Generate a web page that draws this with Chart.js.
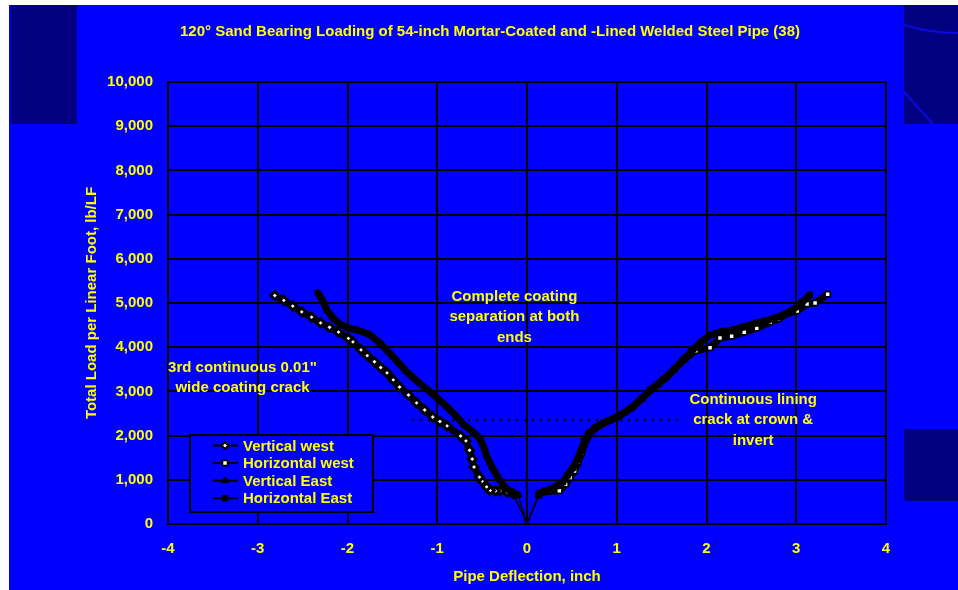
<!DOCTYPE html>
<html>
<head>
<meta charset="utf-8">
<script src="https://cdn.jsdelivr.net/npm/chart.js@4.4.1/dist/chart.umd.min.js"></script>
<style>
  html, body { margin: 0; padding: 0; background: #ffffff; overflow: hidden; }
  canvas { display: block; }
</style>
</head>
<body>
<canvas id="chart" width="958" height="590"></canvas>
<script>
// Axis ticks
const xTicks = [-4, -3, -2, -1, 0, 1, 2, 3, 4];
const yTicks = [0, 1000, 2000, 3000, 4000, 5000, 6000, 7000, 8000, 9000, 10000];

// Series: [pipe deflection (in), total load (lb/LF)]
const seriesNames = ['Vertical west', 'Horizontal west', 'Vertical East', 'Horizontal East'];

const verticalWest = [
  [0, 0], [-0.15, 680], [-0.22, 720], [-0.30, 750], [-0.35, 750], [-0.41, 760],
  [-0.45, 840], [-0.50, 970], [-0.53, 1060], [-0.59, 1290], [-0.61, 1470],
  [-0.64, 1670], [-0.68, 1880], [-0.74, 1990], [-0.89, 2220], [-0.97, 2320],
  [-1.05, 2420], [-1.14, 2580], [-1.23, 2740], [-1.32, 2920], [-1.42, 3100],
  [-1.49, 3260], [-1.56, 3420], [-1.63, 3540], [-1.70, 3670], [-1.78, 3810],
  [-1.85, 3940], [-1.94, 4120], [-1.99, 4200], [-2.10, 4340], [-2.20, 4450],
  [-2.30, 4550], [-2.40, 4680], [-2.51, 4800], [-2.61, 4930], [-2.71, 5060],
  [-2.81, 5170]
];

const horizontalWest = [
  [0, 0], [0.14, 700], [0.25, 740], [0.36, 750], [0.43, 900], [0.48, 1050],
  [0.53, 1200], [0.57, 1400], [0.61, 1600], [0.64, 1800], [0.70, 2050],
  [0.80, 2220], [0.92, 2340], [1.04, 2460], [1.16, 2620], [1.28, 2840],
  [1.40, 3060], [1.52, 3270], [1.64, 3500], [1.76, 3740], [1.88, 3920],
  [2.04, 3990], [2.15, 4210], [2.28, 4250], [2.42, 4340], [2.56, 4430],
  [2.71, 4570], [2.80, 4640], [2.91, 4770], [3.01, 4820], [3.12, 4980],
  [3.21, 5000], [3.35, 5200]
];

const verticalEast = [
  [0, 0], [-0.10, 660], [-0.16, 700], [-0.25, 840], [-0.32, 1040], [-0.39, 1290],
  [-0.45, 1540], [-0.49, 1790], [-0.53, 1950], [-0.60, 2080], [-0.70, 2240],
  [-0.78, 2420], [-0.89, 2650], [-1.05, 2940], [-1.19, 3170], [-1.34, 3440],
  [-1.49, 3780], [-1.64, 4100], [-1.75, 4280], [-1.89, 4390], [-1.99, 4430],
  [-2.08, 4520], [-2.16, 4660], [-2.23, 4840], [-2.28, 5070], [-2.33, 5230]
];

const horizontalEast = [
  [0, 0], [0.13, 650], [0.20, 760], [0.27, 790], [0.33, 860], [0.40, 950],
  [0.45, 1100], [0.51, 1270], [0.56, 1450], [0.60, 1650], [0.64, 1880],
  [0.69, 2060], [0.76, 2180], [0.85, 2290], [1.00, 2420], [1.09, 2530],
  [1.18, 2650], [1.28, 2840], [1.37, 3030], [1.47, 3180], [1.56, 3330],
  [1.65, 3520], [1.74, 3710], [1.83, 3900], [1.93, 4100], [2.04, 4280],
  [2.17, 4350], [2.30, 4390], [2.43, 4470], [2.56, 4550], [2.68, 4610],
  [2.79, 4680], [2.88, 4760], [2.96, 4840], [3.06, 5000], [3.15, 5180]
];

// Dotted reference level (lining crack)
const crackLevel = [[-1.28, 2350], [1.74, 2350]];

// Callout texts, anchored at [deflection, load] of the first line
const callouts = [
  { at: [-0.14, 5140], lines: ['Complete coating', 'separation at both', 'ends'] },
  { at: [-3.17, 3530], lines: ['3rd continuous 0.01"', 'wide coating crack'] },
  { at: [2.52, 2810], lines: ['Continuous lining', 'crack at crown &', 'invert'] }
];

const titleText = '120\u00B0 Sand Bearing Loading of 54-inch Mortar-Coated and -Lined Welded Steel Pipe (38)';

const YELLOW = '#ffff00';
const FONT = "'Liberation Sans', Arial, sans-serif";
Chart.defaults.font.family = FONT;
Chart.defaults.font.size = 15;
Chart.defaults.font.weight = 'bold';
Chart.defaults.color = YELLOW;

const toXY = arr => arr.map(([x, y]) => ({ x, y }));

function curve(label, data, style, order) {
  return {
    label,
    data: toXY(data),
    showLine: true,
    order,
    borderColor: '#000000',
    borderWidth: 7,
    borderJoinStyle: 'round',
    borderCapStyle: 'round',
    pointRadius: c => (c.dataIndex === 0 ? 0 : style.radius),
    pointStyle: style.shape,
    pointBackgroundColor: style.fill,
    pointBorderColor: '#000000',
    pointBorderWidth: style.border,
    segment: {
      borderWidth: c => (c.p0DataIndex === 0 ? 1.5 : 7)
    }
  };
}

const markerStyles = [
  { shape: 'rectRot', radius: 4, fill: '#ffffff', border: 3 },
  { shape: 'rect', radius: 3.6, fill: '#ffffff', border: 1.6 },
  { shape: 'triangle', radius: 4, fill: '#000000', border: 1 },
  { shape: 'rect', radius: 4, fill: '#000000', border: 1 }
];

// Slide backdrop: white margin, blue panel, dark corner panels
const backdrop = {
  id: 'backdrop',
  beforeDraw(chart) {
    const c = chart.ctx;
    c.save();
    c.fillStyle = '#ffffff';
    c.fillRect(0, 0, chart.width, chart.height);
    c.fillStyle = '#0000ff';
    c.fillRect(9, 5, chart.width - 9, chart.height - 5);
    c.fillStyle = '#000080';
    c.fillRect(11, 5, 66, 119);
    c.fillRect(904, 5, 54, 119);
    c.fillRect(904, 429, 54, 72);
    c.strokeStyle = '#0a0ae0';
    c.lineWidth = 2;
    c.beginPath(); c.moveTo(904, 25); c.quadraticCurveTo(930, 33, 958, 33); c.stroke();
    c.beginPath(); c.moveTo(904, 92); c.lineTo(933, 124); c.stroke();
    c.restore();
  }
};

// Title, callouts and the boxed legend
const overlay = {
  id: 'overlay',
  afterDatasetsDraw(chart) {
    const c = chart.ctx;
    const xs = chart.scales.x, ys = chart.scales.y;
    const area = chart.chartArea;
    c.save();
    c.fillStyle = YELLOW;
    c.font = 'bold 15px ' + FONT;
    c.textAlign = 'center';
    c.textBaseline = 'middle';
    c.fillText(titleText, 490, 32);

    callouts.forEach(note => {
      const px = xs.getPixelForValue(note.at[0]);
      const py = ys.getPixelForValue(note.at[1]);
      note.lines.forEach((t, i) => c.fillText(t, px, py + i * 20.3));
    });

    // legend box
    const lx = area.left + 22, ly = area.top + 353, lw = 183, lh = 77;
    c.fillStyle = '#0000ff';
    c.fillRect(lx, ly, lw, lh);
    c.strokeStyle = '#000000';
    c.lineWidth = 2;
    c.strokeRect(lx, ly, lw, lh);
    c.textAlign = 'left';
    chart.data.datasets.slice(0, 4).forEach((ds, i) => {
      const cy = ly + 10.5 + i * 17.6;
      c.strokeStyle = '#000000';
      c.lineWidth = 2;
      c.beginPath(); c.moveTo(lx + 23, cy); c.lineTo(lx + 48, cy); c.stroke();
      const st = markerStyles[i];
      c.fillStyle = st.fill;
      c.strokeStyle = '#000000';
      c.lineWidth = i === 0 ? 2.2 : st.border;
      Chart.helpers.drawPoint(c, { pointStyle: st.shape, radius: i === 0 ? 3.5 : st.radius, rotation: 0, borderWidth: c.lineWidth }, lx + 35, cy);
      c.fillStyle = YELLOW;
      c.fillText(ds.label, lx + 53, cy + 1);
    });
    c.restore();
  }
};

const gridStyle = { color: '#000000', lineWidth: 2, drawTicks: false };

new Chart(document.getElementById('chart'), {
  type: 'scatter',
  data: {
    datasets: [
      curve(seriesNames[0], verticalWest, markerStyles[0], 4),
      curve(seriesNames[1], horizontalWest, markerStyles[1], 3),
      curve(seriesNames[2], verticalEast, markerStyles[2], 2),
      curve(seriesNames[3], horizontalEast, markerStyles[3], 1),
      {
        label: 'crack level',
        data: toXY(crackLevel),
        showLine: true,
        order: 5,
        borderColor: '#000000',
        borderWidth: 2,
        borderDash: [2, 6],
        pointRadius: 0
      }
    ]
  },
  options: {
    responsive: false,
    devicePixelRatio: 1,
    animation: false,
    events: [],
    layout: { padding: { left: 0, right: 72, top: 82, bottom: 0 } },
    plugins: {
      legend: { display: false },
      title: { display: false },
      tooltip: { enabled: false }
    },
    scales: {
      x: {
        type: 'linear',
        min: xTicks[0],
        max: xTicks[xTicks.length - 1],
        afterBuildTicks: s => { s.ticks = xTicks.map(v => ({ value: v })); },
        afterFit: s => { s.height = 66; },
        grid: gridStyle,
        border: { color: '#000000', width: 2 },
        ticks: { padding: 16, color: YELLOW, callback: v => String(v) },
        title: { display: true, text: 'Pipe Deflection, inch', color: YELLOW, padding: { top: 0, bottom: 4 } }
      },
      y: {
        type: 'linear',
        min: yTicks[0],
        max: yTicks[yTicks.length - 1],
        afterBuildTicks: s => { s.ticks = yTicks.map(v => ({ value: v })); },
        afterFit: s => { s.width = 168; },
        grid: gridStyle,
        border: { color: '#000000', width: 2 },
        ticks: { padding: 15, color: YELLOW, callback: v => v.toLocaleString('en-US') },
        title: { display: true, text: 'Total Load per Linear Foot, lb/LF', color: YELLOW, padding: { top: 83, bottom: 0 } }
      }
    }
  },
  plugins: [backdrop, overlay]
});
</script>
</body>
</html>
